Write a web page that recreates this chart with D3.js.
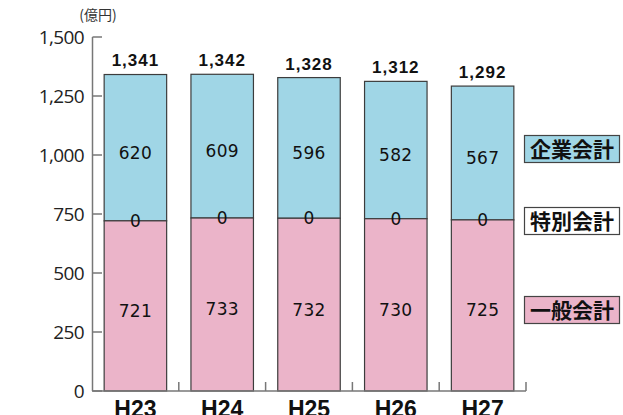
<!DOCTYPE html>
<html>
<head>
<meta charset="utf-8">
<script src="https://d3js.org/d3.v7.min.js"></script>
<style>
  body { margin: 0; background: #fff; }
  svg { display: block; }
</style>
</head>
<body>
<svg id="chart" width="623" height="415"></svg>
<script>
// data
var years = ["H23", "H24", "H25", "H26", "H27"];
var general = [721, 733, 732, 730, 725];     // 一般会計
var special = [0, 0, 0, 0, 0];               // 特別会計
var enterprise = [620, 609, 596, 582, 567];  // 企業会計
var totals = [1341, 1342, 1328, 1312, 1292];
var yTicks = [0, 250, 500, 750, 1000, 1250, 1500];
var legendNames = ["企業会計", "特別会計", "一般会計"];

var svg = d3.select("#chart");
var fmt = d3.format(",");

var colBlue = "#a0d6e6", colPink = "#ebb4c9";

var x = d3.scaleBand().domain(years).range([92, 526])
    .paddingInner(0.28).paddingOuter(0.14);
var y = d3.scaleLinear().domain([0, 1500]).range([391, 37]);

// unit label
svg.append("text").attr("x", 98).attr("y", 20)
    .attr("text-anchor", "middle")
    .style("font-family", "'Noto Sans CJK JP'").style("font-size", "14px")
    .attr("fill", "#333").text("(億円)");

// bars
var rows = years.map(function(d, i) {
  return {year: d, g: general[i], s: special[i], e: enterprise[i], t: totals[i]};
});

var bars = svg.append("g").selectAll("g").data(rows).join("g");

bars.append("rect")
    .attr("x", function(d) { return x(d.year); })
    .attr("width", x.bandwidth())
    .attr("y", function(d) { return y(d.g + d.s + d.e); })
    .attr("height", function(d) { return y(d.g + d.s) - y(d.g + d.s + d.e); })
    .attr("fill", colBlue).attr("stroke", "#3c3c3c").attr("stroke-width", 1.2);

bars.append("rect")
    .attr("x", function(d) { return x(d.year); })
    .attr("width", x.bandwidth())
    .attr("y", function(d) { return y(d.g); })
    .attr("height", function(d) { return y(0) - y(d.g); })
    .attr("fill", colPink).attr("stroke", "#3c3c3c").attr("stroke-width", 1.2);

var numFont = "'DejaVu Sans'";

// value labels inside segments
bars.append("text")
    .attr("x", function(d) { return x(d.year) + x.bandwidth() / 2; })
    .attr("y", function(d) { return (y(d.g + d.s) + y(d.g + d.s + d.e)) / 2 + 5; })
    .attr("dy", "0.35em").attr("text-anchor", "middle")
    .style("font-family", numFont).style("font-size", "17px").style("letter-spacing", "0.3px")
    .style("font-weight", "500")
    .attr("fill", "#111")
    .text(function(d) { return fmt(d.e); });

bars.append("text")
    .attr("x", function(d) { return x(d.year) + x.bandwidth() / 2; })
    .attr("y", function(d) { return (y(0) + y(d.g)) / 2 + 5; })
    .attr("dy", "0.35em").attr("text-anchor", "middle")
    .style("font-family", numFont).style("font-size", "17px").style("letter-spacing", "0.3px")
    .attr("fill", "#111")
    .text(function(d) { return fmt(d.g); });

bars.append("text")
    .attr("x", function(d) { return x(d.year) + x.bandwidth() / 2; })
    .attr("y", function(d) { return y(d.g + d.s); })
    .attr("dy", "0.35em").attr("text-anchor", "middle")
    .style("font-family", numFont).style("font-size", "17px")
    .attr("fill", "#111")
    .text(function(d) { return fmt(d.s); });

// totals above bars
bars.append("text")
    .attr("x", function(d) { return x(d.year) + x.bandwidth() / 2; })
    .attr("y", function(d) { return y(d.t) - 14; })
    .attr("dy", "0.35em").attr("text-anchor", "middle")
    .style("font-family", "'Liberation Sans'").style("font-size", "17px").style("font-weight", "bold")
    .style("letter-spacing", "1px")
    .attr("fill", "#111")
    .text(function(d) { return fmt(d.t); });

// y axis
var axisCol = "#777";
svg.append("line").attr("x1", 92.5).attr("x2", 92.5).attr("y1", y(1500)).attr("y2", y(0))
    .attr("stroke", axisCol).attr("stroke-width", 1.5);
var yt = svg.append("g").selectAll("g").data(yTicks).join("g");
yt.append("line").attr("x1", 92.5).attr("x2", 102)
    .attr("y1", function(d) { return y(d); }).attr("y2", function(d) { return y(d); })
    .attr("stroke", axisCol).attr("stroke-width", 1.5);
yt.append("text").attr("x", 84).attr("y", function(d) { return y(d); })
    .attr("dy", "0.36em").attr("text-anchor", "end")
    .style("font-family", "'Open Sans'").style("font-size", "19px").style("letter-spacing", "-0.6px")
    .attr("fill", "#222")
    .text(function(d) { return fmt(d); });

// x axis baseline with separators
svg.append("line").attr("x1", 92).attr("x2", 526).attr("y1", y(0)).attr("y2", y(0))
    .attr("stroke", axisCol).attr("stroke-width", 1.5);
var step = x.step();
var seps = d3.range(1, years.length + 1).map(function(k) { return 92 + k * step; });
svg.append("g").selectAll("line").data(seps).join("line")
    .attr("x1", function(d) { return d; }).attr("x2", function(d) { return d; })
    .attr("y1", y(0) - 9).attr("y2", y(0))
    .attr("stroke", axisCol).attr("stroke-width", 1.5);

// category labels (cut by the bottom edge, as in the source)
svg.append("g").selectAll("text").data(years).join("text")
    .attr("x", function(d) { return x(d) + x.bandwidth() / 2; })
    .attr("y", 417)
    .attr("text-anchor", "middle")
    .style("font-family", "'Liberation Sans'").style("font-size", "23px").style("font-weight", "bold")
    .attr("fill", "#111")
    .text(function(d) { return d; });

// legend boxes on the right
var legendY = [149, 221, 310];
var legendFill = [colBlue, "#fff", colPink];
var lg = svg.append("g").selectAll("g").data(legendNames).join("g");
lg.append("rect").attr("x", 524.5).attr("width", 95)
    .attr("y", function(d, i) { return legendY[i] - 13.5; }).attr("height", 27)
    .attr("fill", function(d, i) { return legendFill[i]; })
    .attr("stroke", "#444").attr("stroke-width", 1.2);
lg.append("text").attr("x", 572).attr("y", function(d, i) { return legendY[i]; })
    .attr("dy", "0.36em").attr("text-anchor", "middle")
    .style("font-family", "'Noto Sans CJK JP'").style("font-size", "21px").style("font-weight", "bold")
    .attr("fill", "#111")
    .text(function(d) { return d; });
</script>
</body>
</html>
